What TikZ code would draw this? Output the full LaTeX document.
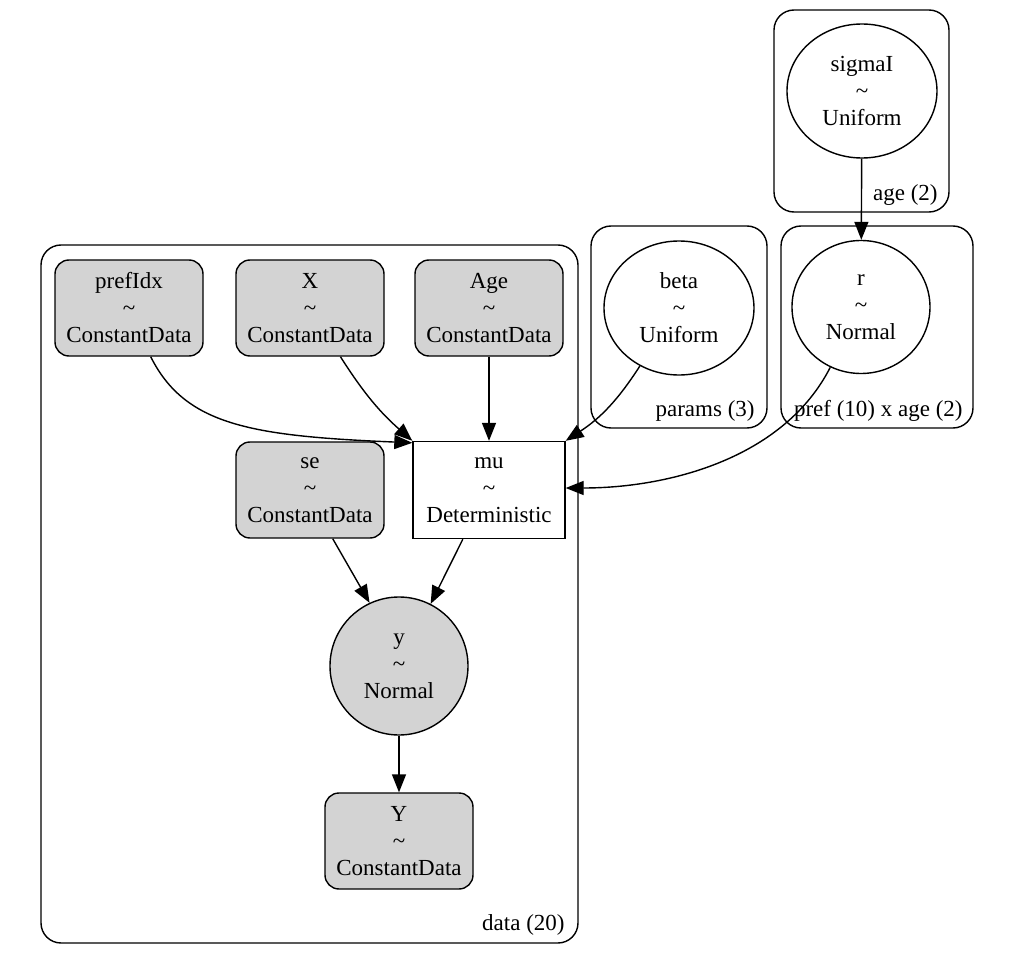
\documentclass[tikz,border=0pt]{standalone}
\usepackage{fontspec}
\setmainfont{Liberation Serif}
\usepackage{tikz}
\usetikzlibrary{arrows.meta,shapes.geometric}
\definecolor{Obs}{HTML}{D3D3D3}
\definecolor{Ink}{HTML}{000000}

\tikzset{
  every node/.style={font=\fontsize{11.5}{13.5}\selectfont,text=Ink},
  obsbox/.style={draw=Ink,line width=0.7pt,fill=Obs,rounded corners=7pt,
    minimum width=74pt,minimum height=48pt,inner sep=0pt,align=center},
  detbox/.style={draw=Ink,line width=0.7pt,fill=white,
    minimum width=76pt,minimum height=48.5pt,inner sep=0pt,align=center},
  rvnode/.style={draw=Ink,line width=0.7pt,ellipse,inner sep=0pt,align=center},
  plate/.style={draw=Ink,line width=0.7pt,rounded corners=10pt},
  platelab/.style={anchor=east,inner sep=0pt},
  edge/.style={draw=Ink,line width=0.7pt,-{Triangle[length=9pt,width=7pt]}}
}

\begin{document}
\begin{tikzpicture}[x=0.5pt,y=-0.5pt]
  \useasboundingbox (0,0) rectangle (1009,953);
  % plates
  \draw[plate] (774,10) rectangle (949,212);
  \draw[plate] (781,226) rectangle (973,428);
  \draw[plate] (591,226) rectangle (767,428);
  \draw[plate] (41,245) rectangle (578,943);
  \node[platelab] (agelab) at (938,195) {age (2)};
  \node[platelab] (preflab) at (963,411) {pref (10) x age (2)};
  \node[platelab] (paramslab) at (755,411) {params (3)};
  \node[platelab] (datalab) at (565,925) {data (20)};

  % random variables
  \node[rvnode,minimum width=75pt,minimum height=67pt] (sigmaI) at (862,91) {sigmaI\\\textasciitilde\\Uniform};
  \node[rvnode,minimum width=69pt,minimum height=66.5pt] (r) at (861,307) {r\\\textasciitilde\\Normal};
  \node[rvnode,minimum width=75pt,minimum height=67pt] (beta) at (679,308) {beta\\\textasciitilde\\Uniform};
  \node[rvnode,fill=Obs,minimum width=69pt,minimum height=69pt] (y) at (399,666) {y\\\textasciitilde\\Normal};

  % data nodes
  \foreach \n/\x/\y in {prefIdx/129/308, X/310/308, Age/489/308, se/310/490, Y/399/841} {
    \node[obsbox] (\n) at (\x,\y) {\n\\\textasciitilde\\ConstantData};
  }
  \node[detbox] (mu) at (489,490) {mu\\\textasciitilde\\Deterministic};

  % edges
  \draw[edge] (sigmaI) -- (r);
  \draw[edge] (prefIdx.-66) .. controls (185,425) and (250,436) .. ([yshift=-1pt]mu.north west);
  \draw[edge] (X.-58) to[bend right=8] (mu.north west);
  \draw[edge] (Age) -- (mu);
  \draw[edge] (beta.-124) to[bend left=12] (mu.north east);
  \draw[edge] (r.-117) to[out=243,in=0,looseness=0.9] ([yshift=1pt]mu.east);
  \draw[edge] (se.-65) -- (y.115);
  \draw[edge] (mu.-118) -- (y.63);
  \draw[edge] (y) -- (Y);
\end{tikzpicture}
\end{document}
